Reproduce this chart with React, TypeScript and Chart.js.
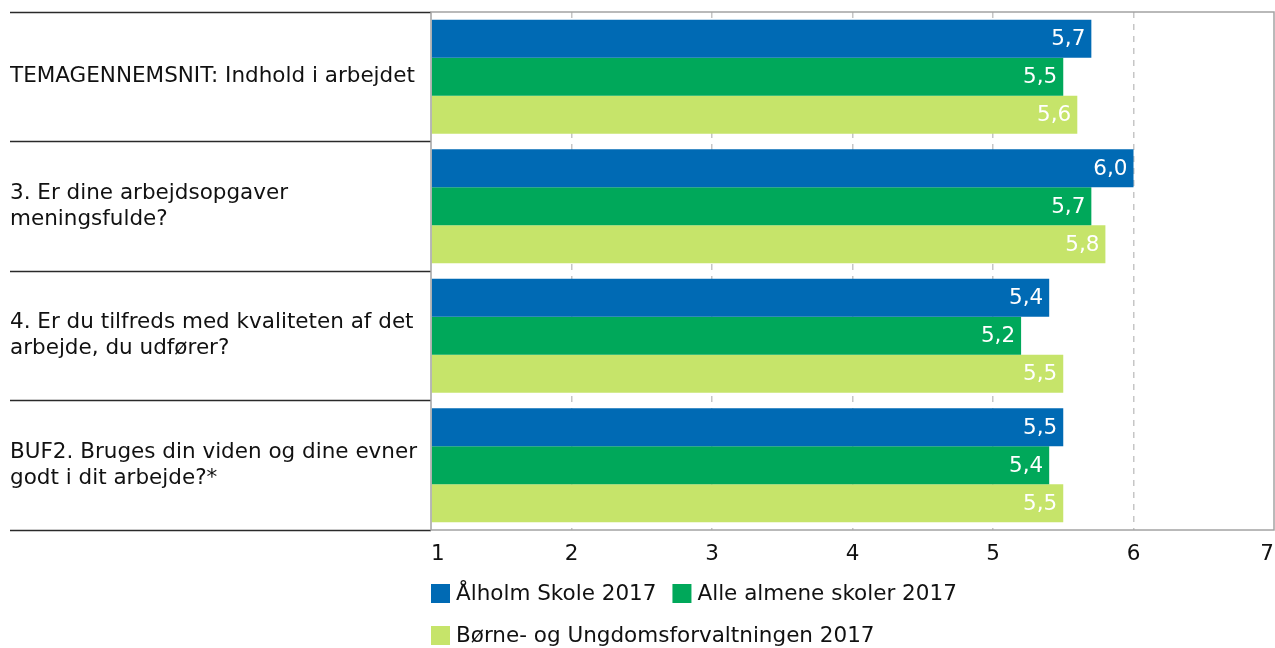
import React, { useEffect, useRef } from 'react';
import { Chart, registerables } from 'chart.js';

Chart.register(...registerables);

const categories: (string | string[])[] = [
  'TEMAGENNEMSNIT: Indhold i arbejdet',
  ['3. Er dine arbejdsopgaver', 'meningsfulde?'],
  ['4. Er du tilfreds med kvaliteten af det', 'arbejde, du udfører?'],
  ['BUF2. Bruges din viden og dine evner', 'godt i dit arbejde?*'],
];
const seriesNames = ['Ålholm Skole 2017', 'Alle almene skoler 2017', 'Børne- og Ungdomsforvaltningen 2017'];
const alholmValues = [5.7, 6.0, 5.4, 5.5];
const almeneValues = [5.5, 5.7, 5.2, 5.4];
const bufValues = [5.6, 5.8, 5.5, 5.5];
const seriesColors = ['#006ab4', '#00a85a', '#c6e46a'];
const xMin = 1;
const xMax = 7;

const FONT_FAMILY = '"DejaVu Sans", Verdana, sans-serif';
const FONT_SIZE = 21.5;
const FONT = `${FONT_SIZE}px ${FONT_FAMILY}`;

const fmt = (v: number) => v.toFixed(1).replace('.', ',');

const frameAndLabels = {
  id: 'frameAndLabels',
  afterDatasetsDraw(chart: any) {
    const { ctx, chartArea: a } = chart;
    ctx.save();
    // value labels
    ctx.font = FONT;
    ctx.fillStyle = '#ffffff';
    ctx.textAlign = 'right';
    ctx.textBaseline = 'middle';
    chart.data.datasets.forEach((ds: any, di: number) => {
      const meta = chart.getDatasetMeta(di);
      meta.data.forEach((el: any, i: number) => {
        ctx.fillText(fmt(ds.data[i]), el.x - 6, el.y + 1);
      });
    });
    // plot frame
    ctx.strokeStyle = '#a3a3a3';
    ctx.lineWidth = 1.5;
    ctx.strokeRect(a.left, a.top, a.right - a.left, a.bottom - a.top);
    ctx.restore();
  },
  afterDraw(chart: any) {
    const { ctx, chartArea: a } = chart;
    ctx.save();
    ctx.font = FONT;
    ctx.textBaseline = 'middle';
    ctx.textAlign = 'left';
    const box = 19;
    const gapText = 6;
    const gapItem = 16;
    const rowH = 42;
    let x = a.left;
    let row = 0;
    chart.data.datasets.forEach((ds: any) => {
      const w = box + gapText + ctx.measureText(ds.label).width;
      if (x + w > a.right && x > a.left) {
        row += 1;
        x = a.left;
      }
      const cy = a.bottom + 63.5 + row * rowH;
      ctx.fillStyle = ds.backgroundColor;
      ctx.fillRect(x, cy - box / 2, box, box);
      ctx.fillStyle = '#111111';
      ctx.fillText(ds.label, x + box + gapText, cy + 1);
      x += w + gapItem;
    });
    ctx.restore();
  },
};

export default function App() {
  const ref = useRef<HTMLCanvasElement | null>(null);

  useEffect(() => {
    document.body.style.margin = '0';
    const canvas = ref.current;
    if (!canvas) return;
    const values = [alholmValues, almeneValues, bufValues];
    const chart = new Chart(canvas, {
      type: 'bar',
      data: {
        labels: categories,
        datasets: values.map((d, i) => ({
          label: seriesNames[i],
          data: d,
          backgroundColor: seriesColors[i],
          borderWidth: 0,
          base: xMin,
          categoryPercentage: 0.88,
          barPercentage: 1,
        })),
      },
      options: {
        indexAxis: 'y',
        responsive: false,
        animation: false,
        devicePixelRatio: 1,
        layout: { padding: { left: 10, top: 12, right: 1, bottom: 0 } },
        plugins: {
          legend: { display: false },
          tooltip: { enabled: false },
        },
        scales: {
          x: {
            type: 'linear',
            min: xMin,
            max: xMax,
            afterFit(s: any) {
              s.height = 118;
              s.paddingLeft = 0;
              s.paddingRight = 0;
            },
            ticks: {
              stepSize: 1,
              align: 'inner',
              padding: 0,
              color: '#111111',
              font: { family: FONT_FAMILY, size: FONT_SIZE },
            },
            grid: {
              color: (c: any) =>
                c.tick && (c.tick.value === xMin || c.tick.value === xMax) ? 'rgba(0,0,0,0)' : '#c6c6c6',
              lineWidth: 1.5,
              drawTicks: true,
              tickLength: 12,
              tickWidth: 0,
            },
            border: { display: false, dash: [6, 6] },
          },
          y: {
            type: 'category',
            afterFit(s: any) {
              s.width = 421;
              s.paddingTop = 0;
              s.paddingBottom = 0;
            },
            ticks: {
              crossAlign: 'far',
              autoSkip: false,
              padding: 0,
              color: '#111111',
              font: { family: FONT_FAMILY, size: FONT_SIZE },
            },
            grid: {
              offset: true,
              drawOnChartArea: false,
              drawTicks: true,
              tickLength: 421,
              tickColor: '#2a2a2a',
              tickWidth: 1.5,
            },
            border: { display: false },
          },
        },
      } as any,
      plugins: [frameAndLabels],
    });
    return () => chart.destroy();
  }, []);

  return <canvas ref={ref} width={1275} height={648} style={{ display: 'block' }} />;
}
